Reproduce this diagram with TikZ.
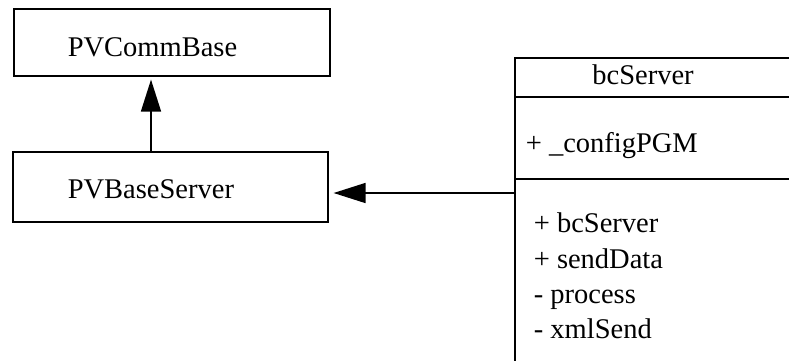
\documentclass[tikz,border=0pt]{standalone}
\usepackage{fontspec}
\setmainfont{Liberation Serif}
\usetikzlibrary{arrows.meta}
\begin{document}
\begin{tikzpicture}[x=1pt,y=-1pt,line width=1.6pt,
  box/.style={draw,anchor=north west,inner sep=0pt},
  lbl/.style={font=\fontsize{28.5}{34}\selectfont,inner sep=0pt,anchor=base west},
  inh/.style={-{Triangle[length=32pt,width=20pt]}}]
\useasboundingbox (0,0) rectangle (789,360);
\node[box,minimum width=316pt,minimum height=67pt] (comm) at (13,8) {};
\node[box,minimum width=315pt,minimum height=70pt] (srv) at (12,151) {};
\node[box,minimum width=320pt,minimum height=330pt] (bc) at (514,57) {};
\coordinate (h1) at (514,97);
\coordinate (h2) at (514,179);
\draw (h1) -- (820,97);
\draw (h2) -- (820,179);
\node[lbl] (tcomm) at (67,56) {PVCommBase};
\node[lbl] (tsrv) at (67,198) {PVBaseServer};
\node[lbl,anchor=base] (tbc) at (643,84) {bcServer};
\node[lbl] (tcfg) at (525,152) {+ \_configPGM};
\node[lbl] (m1) at (533,232) {+ bcServer};
\node[lbl] (m2) at (533,268) {+ sendData};
\node[lbl] (m3) at (533,303) {- process};
\node[lbl] (m4) at (533,338) {- xmlSend};
\draw[inh,shorten >=3pt] (srv.north -| 151,0) -- (comm.south -| 151,0);
\draw[inh,shorten >=5pt] (bc.west |- 0,193) -- (srv.east |- 0,193);
\end{tikzpicture}
\end{document}
